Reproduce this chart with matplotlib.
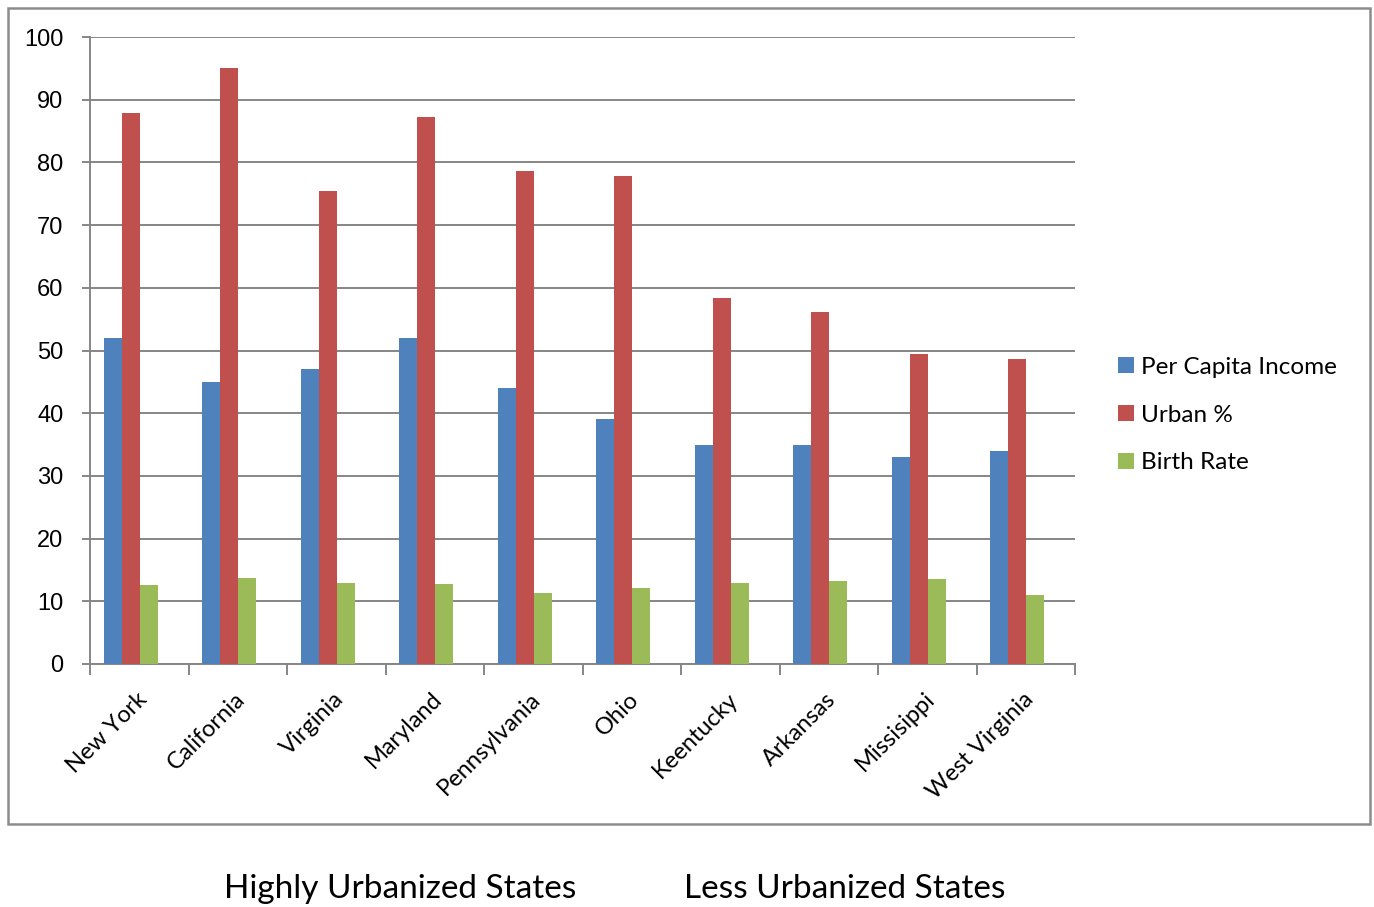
import matplotlib
matplotlib.use("Agg")
import matplotlib.pyplot as plt
import numpy as np
from matplotlib.patches import Rectangle

states = ["New York", "California", "Virginia", "Maryland", "Pennsylvania",
          "Ohio", "Keentucky", "Arkansas", "Missisippi", "West Virginia"]
per_capita_income = [52, 45, 47, 52, 44, 39, 35, 35, 33, 34]
urban_pct = [87.8, 95.0, 75.5, 87.2, 78.7, 77.9, 58.4, 56.2, 49.4, 48.7]
birth_rate = [12.6, 13.7, 12.9, 12.8, 11.3, 12.1, 12.9, 13.2, 13.5, 11.0]
series_names = ["Per Capita Income", "Urban %", "Birth Rate"]
colors = ["#4F81BD", "#C0504D", "#9BBB59"]
y_ticks = list(range(0, 101, 10))
bottom_left = "Highly Urbanized States"
bottom_right = "Less Urbanized States"

W, H = 1374, 907
fig = plt.figure(figsize=(W / 100, H / 100), dpi=100)
ax = fig.add_axes([90 / W, 1 - 664 / H, (1075 - 90) / W, (664 - 37) / H])

grid_c = "#868686"
x = np.arange(len(states))
bw = 0.183
shift = -0.085
handles = []
for i, (vals, c, name) in enumerate(zip([per_capita_income, urban_pct, birth_rate], colors, series_names)):
    b = ax.bar(x + shift + (i - 1) * bw, vals, bw, color=c, label=name, zorder=3)
    handles.append(b)

ax.set_xlim(-0.5, len(states) - 0.5)
ax.set_ylim(0, 100)
ax.set_yticks(y_ticks)
ax.set_yticklabels([str(t) for t in y_ticks], fontsize=17, family="Liberation Sans")
ax.yaxis.grid(True, color=grid_c, linewidth=1.4, zorder=0)
ax.set_axisbelow(True)
for s in ["top", "right"]:
    ax.spines[s].set_visible(False)
for s in ["left", "bottom"]:
    ax.spines[s].set_color(grid_c)
    ax.spines[s].set_linewidth(1.4)
ax.tick_params(axis="y", length=6, width=1.4, color=grid_c, pad=13)

# x ticks at category boundaries
ax.set_xticks(np.arange(-0.5, len(states) + 0.5, 1.0))
ax.set_xticklabels([])
ax.tick_params(axis="x", length=8, width=1.4, color=grid_c)
for xi, name in zip(x, states):
    ax.annotate(name, xy=(xi, 0), xycoords=("data", "axes fraction"),
                xytext=(3, -23), textcoords="offset points",
                rotation=45, ha="right", va="center", rotation_mode="anchor",
                fontsize=17, family="Lato")

leg = fig.legend(handles=handles, labels=series_names,
                 loc="center left", bbox_to_anchor=(1096 / W, 1 - 415 / H),
                 frameon=False, prop={"family": "Lato", "size": 17.5},
                 handlelength=0.65, handleheight=0.65, handletextpad=0.3,
                 labelspacing=1.1)

# outer border
fig.patches.append(Rectangle((8 / W, 1 - 824 / H), (1370 - 8) / W, (824 - 8) / H,
                             transform=fig.transFigure, fill=False,
                             edgecolor="#8c8c8c", linewidth=1.8))

fig.text(400 / W, 1 - 889 / H, bottom_left, ha="center", va="center",
         fontsize=24, family="Lato")
fig.text(845 / W, 1 - 889 / H, bottom_right, ha="center", va="center",
         fontsize=24, family="Lato")

fig.savefig("out.png", dpi=100)
